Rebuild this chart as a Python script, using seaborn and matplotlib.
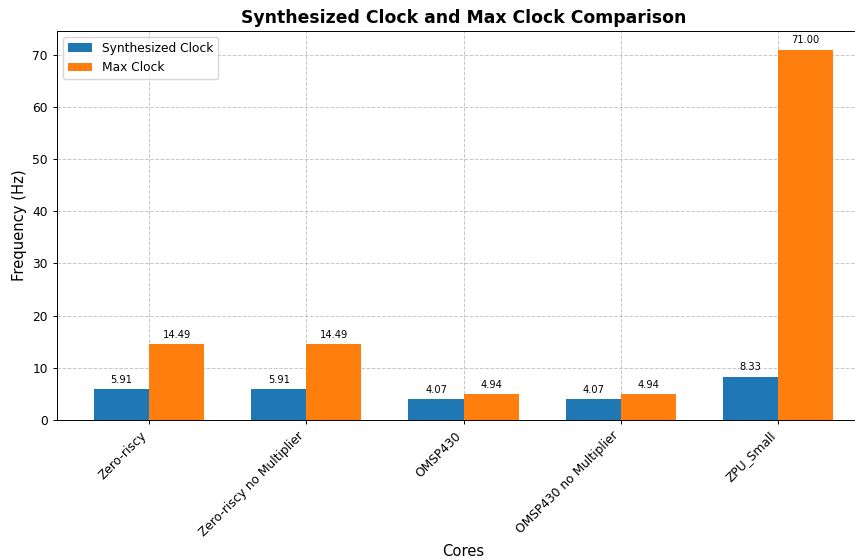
import matplotlib
matplotlib.use("Agg")
import matplotlib.pyplot as plt
import seaborn as sns
import pandas as pd

cores = ["Zero-riscy", "Zero-riscy no Multiplier", "OMSP430", "OMSP430 no Multiplier", "ZPU_Small"]
synth_clock = [5.91, 5.91, 4.07, 4.07, 8.33]
max_clock = [14.49, 14.49, 4.94, 4.94, 71.00]
series = ["Synthesized Clock", "Max Clock"]

df = pd.DataFrame({
    "Cores": cores * 2,
    "Frequency": synth_clock + max_clock,
    "Series": [series[0]] * len(cores) + [series[1]] * len(cores),
})

plt.rcParams["font.family"] = ["DejaVu Sans"]
plt.rcParams["font.size"] = 8.8
plt.rcParams["xtick.labelsize"] = 8.8
plt.rcParams["ytick.labelsize"] = 8.8
plt.rcParams["legend.fontsize"] = 8.8
plt.rcParams["axes.linewidth"] = 0.7
plt.rcParams["xtick.major.size"] = 3.1
plt.rcParams["ytick.major.size"] = 3.1
plt.rcParams["xtick.major.width"] = 0.7
plt.rcParams["ytick.major.width"] = 0.7
plt.rcParams["grid.linewidth"] = 0.7

fig = plt.figure(figsize=(8.55, 5.6), dpi=100)
ax = fig.add_axes([57 / 855, 1 - 420 / 560, (870 - 57) / 855, (420 - 31) / 560])

sns.barplot(data=df, x="Cores", y="Frequency", hue="Series", hue_order=series,
            palette=["#1f77b4", "#ff7f0e"], saturation=1, width=0.7, gap=0,
            errorbar=None, ax=ax, linewidth=0)

for cont in ax.containers:
    ax.bar_label(cont, fmt="%.2f", padding=3, fontsize=7.1)

ax.set_xlim(-0.585, 4.585)
ax.set_ylim(0, 74.55)
ax.set_title("Synthesized Clock and Max Clock Comparison", fontsize=12.4,
             fontweight="bold", pad=5.5)
ax.set_xlabel("Cores", fontsize=10.6)
ax.set_ylabel("Frequency (Hz)", fontsize=10.6)
plt.setp(ax.get_xticklabels(), rotation=45, ha="right")
ax.grid(True, linestyle="--", alpha=0.7)
ax.set_axisbelow(True)
ax.legend(loc="upper left")

fig.savefig("out.png", dpi=100)
